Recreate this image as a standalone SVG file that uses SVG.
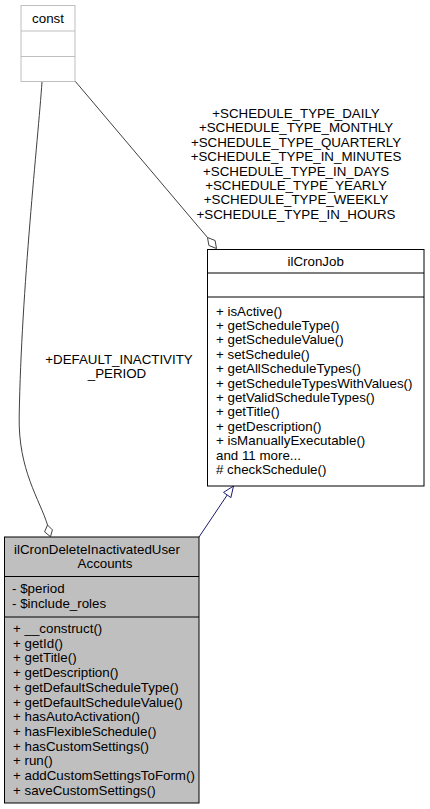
<svg xmlns="http://www.w3.org/2000/svg" width="430" height="809" viewBox="0 0 430 809">
<style>
text{font-family:"Liberation Sans",Arial,Helvetica,sans-serif;font-size:13.33px;fill:#000}
.c{text-anchor:middle}
.agg{fill:none;stroke:#404040;stroke-width:1}
.aggh{fill:#fff;stroke:#404040;stroke-width:1}
.inh{fill:none;stroke:#191970;stroke-width:1}
.inhh{fill:#fff;stroke:#191970;stroke-width:1}
</style>
<rect width="430" height="809" fill="#fff"/>
<g id="edges">
<path class="agg" d="M75,81 L207.5,237.5"/>
<polygon class="aggh" points="207.5,237.5 215.1,240.5 216.5,248.5 208.9,245.5"/>
<path class="agg" d="M42,82 C38,140 21.4,288 19.2,416 C18,470 40,500 47.5,525"/>
<polygon class="aggh" points="47.5,525 52.4,529.9 50.5,536.7 44.6,531.9"/>
<g>
<text class="c" x="296" y="118">+SCHEDULE_TYPE_DAILY</text>
<text class="c" x="296" y="132.4">+SCHEDULE_TYPE_MONTHLY</text>
<text class="c" x="296" y="146.8">+SCHEDULE_TYPE_QUARTERLY</text>
<text class="c" x="296" y="161.2">+SCHEDULE_TYPE_IN_MINUTES</text>
<text class="c" x="296" y="175.6">+SCHEDULE_TYPE_IN_DAYS</text>
<text class="c" x="296" y="190">+SCHEDULE_TYPE_YEARLY</text>
<text class="c" x="296" y="204.4">+SCHEDULE_TYPE_WEEKLY</text>
<text class="c" x="296" y="218.8">+SCHEDULE_TYPE_IN_HOURS</text>
<text class="c" x="119" y="363.7">+DEFAULT_INACTIVITY</text>
<text class="c" x="117" y="378">_PERIOD</text>
</g>
<path class="inh" d="M199,537 L227.2,495"/>
<polygon class="inhh" points="233.5,486 230.9,497.6 223.5,492.4"/>
</g>
<g id="const">
<rect x="21" y="5.5" width="54" height="76" fill="#fff" stroke="#bfbfbf"/>
<line x1="21" y1="31" x2="75" y2="31" stroke="#bfbfbf"/>
<line x1="21" y1="56.5" x2="75" y2="56.5" stroke="#bfbfbf"/>
<text class="c" x="48" y="22.5">const</text>
</g>
<g id="ilCronJob">
<rect x="207.5" y="249.5" width="216.5" height="236.5" fill="#fff" stroke="#000"/>
<line x1="207.5" y1="273" x2="424" y2="273" stroke="#000"/>
<line x1="207.5" y1="297" x2="424" y2="297" stroke="#000"/>
<text class="c" x="315.7" y="266">ilCronJob</text>
<text x="216" y="315.5">+ isActive()</text>
<text x="216" y="329.9">+ getScheduleType()</text>
<text x="216" y="344.3">+ getScheduleValue()</text>
<text x="216" y="358.7">+ setSchedule()</text>
<text x="216" y="373.1">+ getAllScheduleTypes()</text>
<text x="216" y="387.5">+ getScheduleTypesWithValues()</text>
<text x="216" y="401.9">+ getValidScheduleTypes()</text>
<text x="216" y="416.3">+ getTitle()</text>
<text x="216" y="430.7">+ getDescription()</text>
<text x="216" y="445.1">+ isManuallyExecutable()</text>
<text x="216" y="459.5">and 11 more...</text>
<text x="216" y="473.9"># checkSchedule()</text>
</g>
<g id="ilCronDeleteInactivatedUserAccounts">
<rect x="4.5" y="537" width="194.5" height="266" fill="#bfbfbf" stroke="#000"/>
<line x1="4.5" y1="576.5" x2="199" y2="576.5" stroke="#000"/>
<line x1="4.5" y1="617" x2="199" y2="617" stroke="#000"/>
<text class="c" x="97" y="554">ilCronDeleteInactivatedUser</text>
<text class="c" x="105" y="567.5">Accounts</text>
<text x="12" y="593.2">- $period</text>
<text x="12" y="607.6">- $include_roles</text>
<text x="13" y="633">+ __construct()</text>
<text x="13" y="647.7">+ getId()</text>
<text x="13" y="662.4">+ getTitle()</text>
<text x="13" y="677.1">+ getDescription()</text>
<text x="13" y="691.8">+ getDefaultScheduleType()</text>
<text x="13" y="706.5">+ getDefaultScheduleValue()</text>
<text x="13" y="721.2">+ hasAutoActivation()</text>
<text x="13" y="735.9">+ hasFlexibleSchedule()</text>
<text x="13" y="750.6">+ hasCustomSettings()</text>
<text x="13" y="765.3">+ run()</text>
<text x="13" y="780">+ addCustomSettingsToForm()</text>
<text x="13" y="794.7">+ saveCustomSettings()</text>
</g>
</svg>
